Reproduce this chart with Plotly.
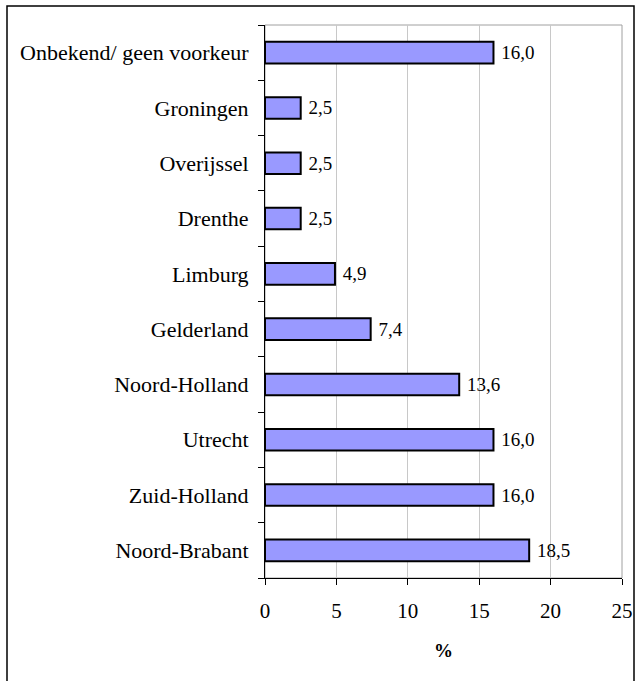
import plotly.graph_objects as go

categories = ["Noord-Brabant", "Zuid-Holland", "Utrecht", "Noord-Holland", "Gelderland",
              "Limburg", "Drenthe", "Overijssel", "Groningen", "Onbekend/ geen voorkeur"]
values = [18.5, 16.0, 16.0, 13.6, 7.4, 4.9, 2.5, 2.5, 2.5, 16.0]
x_ticks = [0, 5, 10, 15, 20, 25]

W, H = 636, 681
L, R, T, B = 265, 14, 25, 103
pw, ph = W - L - R, H - T - B

font = "Liberation Serif, Times New Roman, serif"
labels = [" " + f"{v:.1f}".replace(".", ",") for v in values]

fig = go.Figure(go.Bar(
    y=categories, x=values, orientation="h",
    marker=dict(color="#9999FF", line=dict(color="black", width=2)),
    width=0.39,
    text=labels, textposition="outside",
    textfont=dict(family=font, size=22, color="black"),
    cliponaxis=False,
))

def px_x(p):
    return (p - L) / pw

def px_y(p):
    return (H - B - p) / ph

fig.update_layout(
    width=W, height=H,
    margin=dict(l=L, r=R, t=T, b=B, autoexpand=False),
    paper_bgcolor="white", plot_bgcolor="white",
    showlegend=False,
    font=dict(family=font, size=22, color="black"),
    xaxis=dict(range=[0, 25], tickvals=x_ticks, ticks="outside", ticklen=6,
               tickcolor="black", showline=True, linecolor="black", linewidth=1,
               showgrid=True, gridcolor="#c8c8c8", gridwidth=1, zeroline=False,
               ticklabelstandoff=8, automargin=False,
               tickfont=dict(family=font, size=21),
               title=dict(text="<b>%</b>", font=dict(family=font, size=19), standoff=21)),
    yaxis=dict(type="category", categoryorder="array", categoryarray=categories,
               ticks="outside", ticklen=6, tickcolor="black", tickson="boundaries",
               showline=True, linecolor="black", linewidth=1, showgrid=False,
               zeroline=False, ticklabelstandoff=11, automargin=False,
               tickfont=dict(family=font, size=22)),
    shapes=[
        dict(type="rect", xref="paper", yref="paper", x0=0, x1=1, y0=0, y1=1,
             line=dict(color="#a0a0a0", width=1), layer="below"),
        dict(type="rect", xref="paper", yref="paper",
             x0=px_x(7), x1=px_x(634), y0=px_y(700), y1=px_y(6),
             line=dict(color="black", width=1.5), layer="below"),
    ],
)

fig.write_html("out.html", config={"displayModeBar": False},
               post_script="document.body.style.margin='0';document.body.style.overflow='hidden';")
